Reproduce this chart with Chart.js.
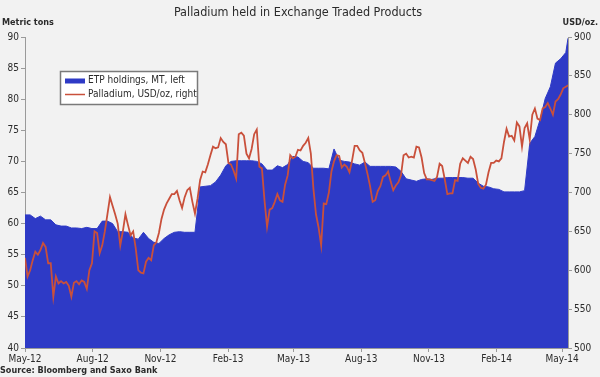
<!DOCTYPE html>
<html>
<head>
<meta charset="utf-8">
<script src="https://cdn.jsdelivr.net/npm/chart.js@4.4.1/dist/chart.umd.min.js"></script>
<style>
  html, body { margin: 0; padding: 0; background: #f2f2f2; }
  #wrap { width: 600px; height: 377px; }
</style>
</head>
<body>
<div id="wrap"><canvas id="pdChart" width="600" height="377"></canvas></div>
<script>
// x values are days since 1 May 2012
const tickDays = [0, 92, 184, 276, 365, 457, 549, 641, 730];
const tickLabels = ['May-12', 'Aug-12', 'Nov-12', 'Feb-13', 'May-13', 'Aug-13', 'Nov-13', 'Feb-14', 'May-14'];

// ETP holdings, metric tons, one reading per week
const holdings = [
  61.4, 61.4, 60.8, 61.2, 60.6, 60.6, 59.8, 59.6, 59.6, 59.3,
  59.3, 59.2, 59.4, 59.2, 59.2, 60.4, 60.4, 60.0, 58.7, 58.7,
  58.6, 57.7, 57.5, 58.6, 57.6, 57.0, 56.8, 57.6, 58.2, 58.6,
  58.7, 58.6, 58.6, 58.6, 65.9, 66.0, 66.1, 66.7, 67.8, 69.3,
  70.0, 70.1, 70.1, 70.1, 70.1, 70.0, 69.6, 68.6, 68.6, 69.3,
  69.0, 69.5, 70.8, 70.7, 70.0, 69.8, 68.9, 68.9, 68.9, 68.8,
  72.0, 70.2, 70.0, 69.9, 69.6, 69.4, 69.9, 69.2, 69.2, 69.2,
  69.2, 69.2, 69.1, 68.4, 67.2, 67.0, 66.8, 67.1, 67.2, 67.1,
  67.3, 67.3, 67.4, 67.4, 67.4, 67.4, 67.3, 67.3, 66.5, 66.0,
  65.9, 65.6, 65.5, 65.1, 65.1, 65.1, 65.1, 65.3, 72.9, 74.0,
  76.7, 80.1, 82.0, 85.8, 86.5, 87.5
];
const holdingsLastDay = 738;
const holdingsLast = 89.8;

// Palladium price, USD/oz, two readings per week
const price = [
  616, 592, 600, 613, 624, 620, 626, 635, 630, 609,
  609, 566, 592, 583, 586, 583, 585, 580, 566, 584,
  586, 582, 587, 585, 576, 600, 609, 650, 648, 622,
  632, 650, 672, 694, 683, 672, 660, 632, 650, 672,
  658, 645, 650, 628, 600, 597, 596, 611, 616, 613,
  632, 636, 648, 666, 678, 686, 692, 698, 698, 702,
  690, 680, 694, 703, 706, 688, 673, 692, 716, 727,
  726, 736, 748, 759, 757, 758, 770, 765, 762, 738,
  736, 728, 718, 775, 777, 773, 750, 744, 756, 775,
  781, 733, 731, 690, 656, 678, 680, 688, 698, 690,
  688, 710, 722, 748, 744, 746, 755, 754, 760, 764,
  770, 750, 705, 672, 655, 632, 686, 685, 700, 727,
  740, 748, 747, 732, 736, 733, 726, 741, 760, 760,
  754, 751, 738, 724, 708, 688, 690, 702, 708, 720,
  722, 727, 714, 703, 709, 713, 722, 748, 750, 745,
  746, 745, 759, 758, 745, 725, 717, 717, 716, 715,
  720, 737, 734, 717, 698, 699, 699, 716, 715, 737,
  744, 741, 738, 746, 743, 730, 711, 706, 705, 710,
  726, 738, 738, 741, 740, 744, 765, 782, 772, 773,
  767, 790, 785, 759, 783, 789, 768, 800, 808, 795,
  793, 808, 810, 815, 808, 800, 817, 820, 826, 834,
  836, 838
];

const titleText = 'Palladium held in Exchange Traded Products';
const leftUnit = 'Metric tons';
const rightUnit = 'USD/oz.';
const sourceText = 'Source: Bloomberg and Saxo Bank';

const blue = '#2e3ac6';
const red = '#c9503b';
const txt = '#2b2b2b';
const fam = "'DejaVu Sans Condensed', 'DejaVu Sans', sans-serif";

const holdingsPts = holdings.map((v, i) => ({ x: i * 7, y: v }));
holdingsPts.push({ x: holdingsLastDay, y: holdingsLast });
const pricePts = price.map((v, k) => ({ x: k * 3.5, y: v }));

// title, unit labels, source and the boxed legend
const decor = {
  id: 'decor',
  afterDraw(chart) {
    const ctx = chart.ctx;
    ctx.save();
    ctx.fillStyle = txt;
    ctx.textBaseline = 'middle';
    ctx.font = '12.5px ' + fam;
    ctx.textAlign = 'center';
    ctx.fillText(titleText, 298, 13);
    ctx.font = 'bold 9px ' + fam;
    ctx.textAlign = 'left';
    ctx.fillText(leftUnit, 2, 23);
    ctx.textAlign = 'right';
    ctx.fillText(rightUnit, 598, 23);
    ctx.textAlign = 'left';
    ctx.fillText(sourceText, 0, 371);

    // legend box
    ctx.fillStyle = '#ffffff';
    ctx.fillRect(60.5, 71.5, 137, 33);
    ctx.strokeStyle = '#7a7a7a';
    ctx.lineWidth = 1.5;
    ctx.strokeRect(60.5, 71.5, 137, 33);
    const ds = chart.data.datasets;
    const items = [ds[1], ds[0]];
    items.forEach((d, i) => {
      const yy = 80.5 + i * 14;
      if (d.fill) {
        ctx.fillStyle = d.backgroundColor;
        ctx.fillRect(65, yy - 2, 20, 5);
      } else {
        ctx.strokeStyle = d.borderColor;
        ctx.lineWidth = 1.5;
        ctx.beginPath();
        ctx.moveTo(65, yy);
        ctx.lineTo(85, yy);
        ctx.stroke();
      }
      ctx.fillStyle = txt;
      ctx.font = '10px ' + fam;
      ctx.fillText(d.label, 88, yy);
    });
    ctx.restore();
  }
};

const tickFont = { family: fam, size: 10 };

new Chart(document.getElementById('pdChart'), {
  type: 'line',
  data: {
    datasets: [
      {
        label: 'Palladium, USD/oz, right',
        data: pricePts,
        yAxisID: 'y1',
        borderColor: red,
        borderWidth: 1.8,
        pointRadius: 0,
        fill: false,
        order: 0
      },
      {
        label: 'ETP holdings, MT, left',
        data: holdingsPts,
        yAxisID: 'y',
        borderColor: blue,
        backgroundColor: blue,
        borderWidth: 1,
        pointRadius: 0,
        fill: 'start',
        order: 1
      }
    ]
  },
  options: {
    responsive: false,
    animation: false,
    layout: { padding: { top: 37, left: 0, right: 0, bottom: 0 } },
    plugins: {
      legend: { display: false },
      title: { display: false },
      tooltip: { enabled: false }
    },
    scales: {
      x: {
        type: 'linear',
        min: 0,
        max: 738,
        afterBuildTicks(scale) {
          scale.ticks = tickDays.map(v => ({ value: v }));
        },
        afterFit(scale) { scale.height = 29; },
        ticks: {
          autoSkip: false,
          maxRotation: 0,
          font: tickFont,
          color: txt,
          padding: 1,
          callback: (v) => tickLabels[tickDays.indexOf(v)]
        },
        grid: { drawOnChartArea: false, tickLength: 4, color: '#9a9a9a' },
        border: { color: '#9a9a9a' }
      },
      y: {
        position: 'left',
        min: 40,
        max: 90,
        afterFit(scale) { scale.width = 25; },
        ticks: { stepSize: 5, font: tickFont, color: txt, padding: 2 },
        grid: { drawOnChartArea: false, tickLength: 4, color: '#9a9a9a' },
        border: { color: '#9a9a9a' }
      },
      y1: {
        position: 'right',
        min: 500,
        max: 900,
        afterFit(scale) { scale.width = 32; },
        ticks: { stepSize: 50, font: tickFont, color: txt, padding: 2 },
        grid: { drawOnChartArea: false, tickLength: 4, color: '#9a9a9a' },
        border: { color: '#9a9a9a' }
      }
    }
  },
  plugins: [decor]
});
</script>
</body>
</html>
